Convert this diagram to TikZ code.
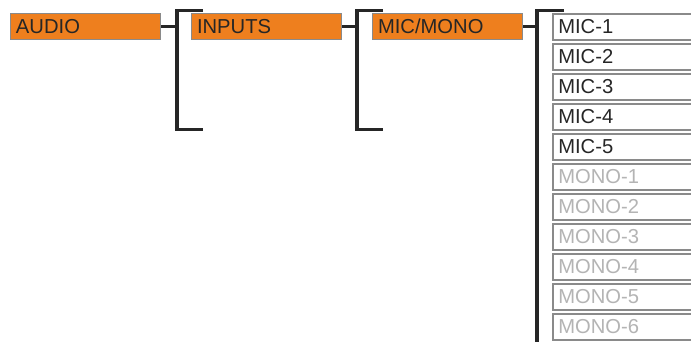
\documentclass[tikz,border=0pt]{standalone}
\usepackage{fontspec}
\setmainfont{Liberation Sans}
\usetikzlibrary{calc}
\definecolor{orng}{HTML}{EE7F1E}
\definecolor{ink}{HTML}{262626}
\definecolor{dim}{HTML}{B4B4B4}
\definecolor{edge}{HTML}{8A8A8A}
\tikzset{
  lbl/.style={anchor=north west, minimum height=26pt, text width=139pt, inner xsep=5.5pt, inner ysep=0pt, align=left, font=\fontsize{20.2}{21}\selectfont, text=ink},
  obox/.style={lbl, fill=orng, draw=edge, line width=1pt},
  ibox/.style={lbl, fill=white, draw=edge, line width=1.6pt},
  offbox/.style={ibox, text=dim},
  conn/.style={draw=ink, line width=3pt},
  brk/.style={draw=ink, line width=3.6pt}
}
\begin{document}
\begin{tikzpicture}[x=1pt,y=-1pt]
\useasboundingbox (0,0) rectangle (691,341);
\clip (0,0) rectangle (691,341);
% main chain
\node[obox] (audio) at (10,13) {AUDIO};
\node[obox] (inputs) at (191,13) {INPUTS};
\node[obox] (micmono) at (372,13) {MIC/MONO};
% bracket coordinates
\coordinate (b1t) at (177,10.5);
\coordinate (b1b) at (177,129.5);
\coordinate (b2t) at (357,10.5);
\coordinate (b2b) at (357,129.5);
\coordinate (b3t) at (537,10.5);
\coordinate (b3b) at (537,345);
% brackets
\draw[brk] ($(b1t)+(26,0)$) -- (b1t) -- (b1b) -- ($(b1b)+(26,0)$);
\draw[brk] ($(b2t)+(26,0)$) -- (b2t) -- (b2b) -- ($(b2b)+(26,0)$);
\draw[brk] ($(b3t)+(27,0)$) -- (b3t) -- (b3b);
% connectors
\draw[conn] (audio.east) -- (audio.east -| b1t);
\draw[conn] (inputs.east) -- (inputs.east -| b2t);
\draw[conn] (micmono.east) -- (micmono.east -| b3t);
% leaf items
\node[ibox] (mic1) at (552,13) {MIC-1};
\node[ibox] (mic2) at (552,43) {MIC-2};
\node[ibox] (mic3) at (552,73) {MIC-3};
\node[ibox] (mic4) at (552,103) {MIC-4};
\node[ibox] (mic5) at (552,133) {MIC-5};
\node[offbox] (mono1) at (552,163) {MONO-1};
\node[offbox] (mono2) at (552,193) {MONO-2};
\node[offbox] (mono3) at (552,223) {MONO-3};
\node[offbox] (mono4) at (552,253) {MONO-4};
\node[offbox] (mono5) at (552,283) {MONO-5};
\node[offbox] (mono6) at (552,313) {MONO-6};
\end{tikzpicture}
\end{document}
